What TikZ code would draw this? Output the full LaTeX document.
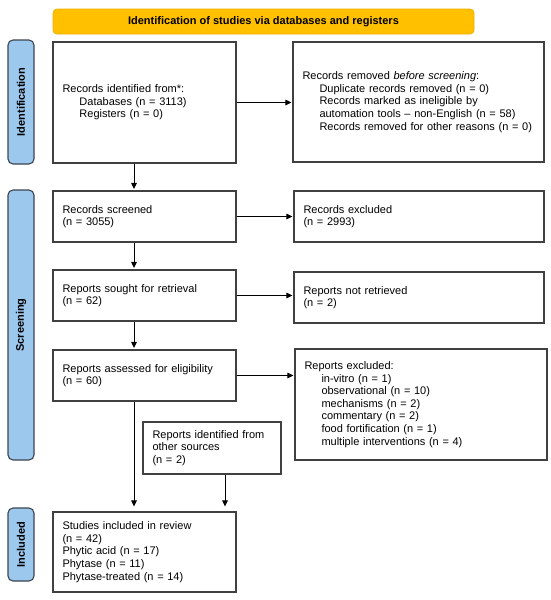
\documentclass[tikz,border=0pt]{standalone}
\usepackage{fontspec}
\setmainfont{Liberation Sans}
\usetikzlibrary{arrows.meta}
\definecolor{bannerfill}{HTML}{FFC000}
\definecolor{bannerdraw}{HTML}{EDB000}
\definecolor{sidefill}{HTML}{9DC8EE}
\definecolor{sidedraw}{HTML}{3A4550}
\definecolor{boxdraw}{HTML}{404040}
\newcommand{\ind}{\hspace*{17pt}}
\begin{document}
\begin{tikzpicture}[x=1pt,y=-1pt,
  box/.style={draw=boxdraw, line width=1.1pt, rectangle, inner xsep=9.5pt, inner ysep=0pt,
    align=left, font=\fontsize{11}{12.6}\selectfont, anchor=center},
  side/.style={draw=sidedraw, fill=sidefill, line width=1.1pt, rounded corners=5pt,
    minimum height=26pt, inner sep=0pt, font=\fontsize{11}{13}\selectfont\bfseries, rotate=90},
  banner/.style={draw=bannerdraw, fill=bannerfill, line width=0.8pt, rounded corners=4pt,
    inner sep=0pt, font=\fontsize{11}{13}\selectfont\bfseries},
  arr/.style={draw=black, line width=1pt, -{Triangle[length=6pt,width=5.5pt]}}
]
\useasboundingbox (0,0) rectangle (550,600);

\node[banner, minimum width=421pt, minimum height=25pt] (ban) at (263.5,21.5)
  {Identification of studies via databases and registers};

\node[side, minimum width=124pt] (s1) at (21,102) {Identification};
\node[side, minimum width=270pt] (s2) at (21,325) {Screening};
\node[side, minimum width=73pt] (s3) at (21,544.5) {Included};

\node[box, text width=164pt, minimum height=121pt] (b1) at (144.5,102.5)
  {Records identified from*:\\\ind Databases (n = 3113)\\\ind Registers (n = 0)};
\node[box, text width=232pt, minimum height=120pt] (b2) at (418.5,102)
  {Records removed \textit{before screening}:\\
   \ind Duplicate records removed (n = 0)\\
   \ind Records marked as ineligible by\\
   \ind automation tools -- non-English (n = 58)\\
   \ind Records removed for other reasons (n = 0)};

\node[box, text width=164pt, minimum height=51pt] (b3) at (144.5,216.5)
  {Records screened\\(n = 3055)};
\node[box, text width=231pt, minimum height=51pt] (b4) at (419,216.5)
  {Records excluded\\(n = 2993)};

\node[box, text width=164pt, minimum height=51pt] (b5) at (144.5,295.5)
  {Reports sought for retrieval\\(n = 62)};
\node[box, text width=231pt, minimum height=51pt] (b6) at (419,297.5)
  {Reports not retrieved\\(n = 2)};

\node[box, text width=164pt, minimum height=51pt] (b7) at (144.5,375.5)
  {Reports assessed for eligibility\\(n = 60)};
\node[box, text width=233pt, minimum height=111pt] (b8) at (421,404.5)
  {Reports excluded:\\
   \ind in-vitro (n = 1)\\
   \ind observational (n = 10)\\
   \ind mechanisms (n = 2)\\
   \ind commentary (n = 2)\\
   \ind food fortification (n = 1)\\
   \ind multiple interventions (n = 4)};

\node[box, text width=119pt, minimum height=52pt] (b9) at (212,448)
  {Reports identified from\\other sources\\(n = 2)};

\node[box, text width=164pt, minimum height=80pt] (b10) at (144.5,552)
  {Studies included in review\\(n = 42)\\Phytic acid (n = 17)\\Phytase (n = 11)\\Phytase-treated (n = 14)};

\coordinate (xa) at (134,0);
\coordinate (xb) at (225,0);

\draw[arr, shorten >=1.5pt] (b1.south -| xa) -- (b3.north -| xa);
\draw[arr, shorten >=1.5pt] (b3.south -| xa) -- (b5.north -| xa);
\draw[arr, shorten >=1.5pt] (b5.south -| xa) -- (b7.north -| xa);
\draw[arr, shorten >=5pt] (b7.south -| xa) -- (b10.north -| xa);
\draw[arr, shorten >=5pt] (b9.south -| xb) -- (b10.north -| xb);

\draw[arr, shorten >=1pt] (b1.east) -- (b1.east -| b2.west);
\draw[arr, shorten >=1pt] (b3.east) -- (b3.east -| b4.west);
\draw[arr, shorten >=1pt] (b5.east) -- (b5.east -| b6.west);
\draw[arr, shorten >=1pt] (b7.east) -- (b7.east -| b8.west);
\end{tikzpicture}
\end{document}
